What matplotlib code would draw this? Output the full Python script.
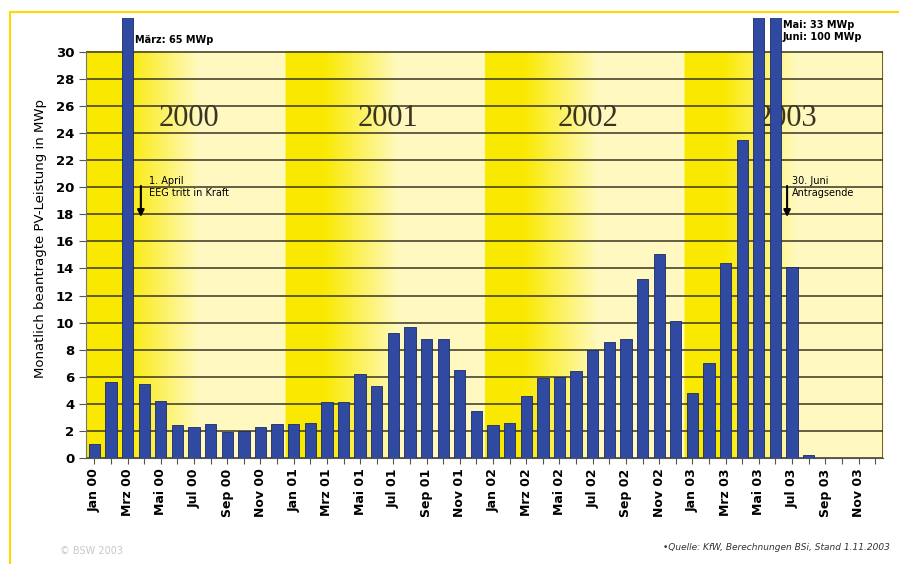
import numpy as np
import matplotlib
matplotlib.use('Agg')
import matplotlib.pyplot as plt
from matplotlib.lines import Line2D

# Monatlich beantragte PV-Leistung (MWp), Jan 2000 - Dez 2003
monate = ['Jan', 'Feb', 'Mrz', 'Apr', 'Mai', 'Jun', 'Jul', 'Aug', 'Sep', 'Okt', 'Nov', 'Dez']
jahre = ['00', '01', '02', '03']
werte_2000 = [1.0, 5.6, 65.0, 5.5, 4.2, 2.4, 2.3, 2.5, 1.9, 2.0, 2.3, 2.5]
werte_2001 = [2.5, 2.6, 4.1, 4.1, 6.2, 5.3, 9.2, 9.7, 8.8, 8.8, 6.5, 3.5]
werte_2002 = [2.4, 2.6, 4.6, 5.9, 6.0, 6.4, 8.0, 8.6, 8.8, 13.2, 15.1, 10.1]
werte_2003 = [4.8, 7.0, 14.4, 23.5, 33.0, 100.0, 14.1, 0.2, 0.0, 0.0, 0.0, 0.0]
jahr_titel = ['2000', '2001', '2002', '2003']

werte = werte_2000 + werte_2001 + werte_2002 + werte_2003
labels = [m + ' ' + j for j in jahre for m in monate]
x = np.arange(len(werte))

fig = plt.figure(figsize=(8.99, 5.64), dpi=100)
ax = fig.add_axes([0.0957, 0.188, 0.887, 0.780])

# background: each year starts bright yellow and fades to pale yellow
hell = np.array([0.98, 0.915, 0.0])
blass = np.array([1.0, 0.98, 0.76])
t = np.linspace(0, 48, 960, endpoint=False) % 12
f = np.clip((t - 2.3) / 4.5, 0, 1)[:, None]
row = hell * (1 - f) + blass * f
img = np.tile(row[None, :, :], (2, 1, 1))
ax.imshow(img, extent=[-0.5, 47.5, 0, 30], aspect='auto', zorder=0, interpolation='bilinear')

for yv in range(0, 31, 2):
    ax.axhline(yv, color='#3a3520', lw=1.1, zorder=1)
ax.plot([47.5, 47.5], [0, 30], color='#3a3520', lw=1.1, zorder=1)

ax.bar(x, werte, width=0.68, color='#2f4aa0', edgecolor='#1c2a66', linewidth=0.6, zorder=2)

ax.set_xlim(-0.5, 47.5)
ax.set_ylim(0, 32.5)
ax.set_yticks(range(0, 31, 2))
ax.set_xticks(x)
ax.set_xticklabels([l if i % 2 == 0 else '' for i, l in enumerate(labels)],
                   rotation=90, fontsize=9, fontweight='bold')
for lab in ax.get_yticklabels():
    lab.set_fontweight('bold')
    lab.set_fontsize(9.5)
ax.tick_params(axis='x', length=4, color='#555555')
ax.tick_params(axis='y', length=5, color='#555555')
for s in ['top', 'right']:
    ax.spines[s].set_visible(False)
ax.spines['left'].set_bounds(0, 30)
ax.spines['left'].set_color('#777777')
ax.spines['bottom'].set_color('#555555')
ax.set_ylabel('Monatlich beantragte PV-Leistung in MWp', fontsize=9.5, labelpad=6)

# year titles
for i, jt in enumerate(jahr_titel):
    ax.text(12 * i + 5.7, 25.1, jt, fontsize=22, family='Liberation Serif',
            ha='center', va='center', color='#3a3520', zorder=1.5)

ax.text(2.45, 30.9, 'März: 65 MWp', fontsize=7, fontweight='bold', ha='left', va='center')
ax.text(41.45, 31.55, 'Mai: 33 MWp\nJuni: 100 MWp', fontsize=7, fontweight='bold',
        ha='left', va='center', linespacing=1.35)

ax.text(3.3, 20.0, '1. April\nEEG tritt in Kraft', fontsize=7, ha='left', va='center', linespacing=1.2)
ax.annotate('', xy=(2.8, 17.6), xytext=(2.8, 20.3),
            arrowprops=dict(arrowstyle='-|>', color='black', lw=1.5), zorder=3)
ax.text(42.0, 20.0, '30. Juni\nAntragsende', fontsize=7, ha='left', va='center', linespacing=1.2)
ax.annotate('', xy=(41.7, 17.6), xytext=(41.7, 20.3),
            arrowprops=dict(arrowstyle='-|>', color='black', lw=1.5), zorder=3)

fig.text(0.067, 0.018, '© BSW 2003', fontsize=7, color='#c8c8c8')
fig.text(0.99, 0.025, '•Quelle: KfW, Berechnungen BSi, Stand 1.11.2003', fontsize=6.5,
         style='italic', ha='right', color='#333333')

# yellow frame
fig.add_artist(Line2D([0.011, 1.0], [0.979, 0.979], color='#ffd800', lw=1.5))
fig.add_artist(Line2D([0.011, 0.011], [0.0, 0.979], color='#ffd800', lw=1.5))

fig.savefig('out.png', dpi=100)
